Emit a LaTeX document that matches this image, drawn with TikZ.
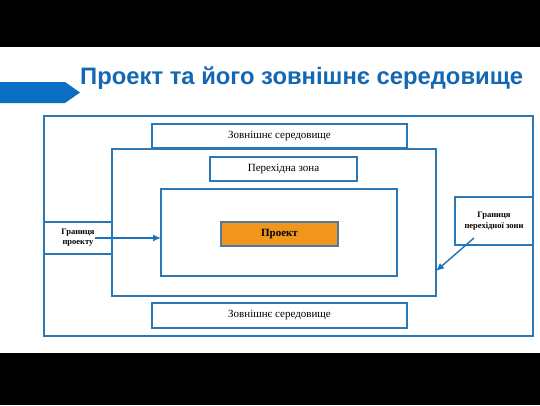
\documentclass[tikz,border=0pt]{standalone}
\usepackage{fontspec}
\setmainfont{Liberation Serif}
\newfontfamily\titlefont{Liberation Sans}
\usetikzlibrary{positioning,arrows.meta}
\definecolor{frameblue}{HTML}{2C78B4}
\definecolor{titleblue}{HTML}{1467B3}
\definecolor{barblue}{HTML}{0A6FC2}
\definecolor{arrowblue}{HTML}{1A73BA}
\definecolor{projorange}{HTML}{F0961C}
\tikzset{
    zone/.style={draw=frameblue, line width=1.6pt},
    labelbox/.style={zone, fill=white, inner sep=0pt, font=\fontsize{11}{13}\selectfont},
    pointer/.style={draw=arrowblue, line width=1.4pt, -{Latex[length=8pt,width=7pt]}},
}
\begin{document}
\begin{tikzpicture}[x=1pt,y=-1pt]
    \useasboundingbox (0,0) rectangle (540,405);
    \fill[black] (0,0) rectangle (540,47);
    \fill[black] (0,353) rectangle (540,405);

    % title bar
    \fill[barblue] (0,82) -- (65,82) -- (80,92.5) -- (65,103) -- (0,103) -- cycle;
    \node[anchor=base west, text=titleblue, inner sep=0pt, font=\titlefont\bfseries\fontsize{23.8}{28}\selectfont] (title) at (80,84) {Проект та його зовнішнє середовище};

    % nested zones
    \draw[zone] (44,116) rectangle (533,336);
    \draw[zone] (112,149) rectangle (436,296);
    \draw[zone] (161,189) rectangle (397,276);

    \node[labelbox, minimum width=255pt, minimum height=24pt] (outtop) at (279.5,136) {Зовнішнє середовище};
    \node[labelbox, minimum width=255pt, minimum height=25pt] (outbot) at (279.5,315.5) {Зовнішнє середовище};
    \node[labelbox, minimum width=147pt, minimum height=24pt] (trans) at (283.5,169) {Перехідна зона};
    \node[draw=frameblue!60!gray, line width=1.2pt, fill=projorange, inner sep=0pt, minimum width=117pt, minimum height=24pt, font=\bfseries\fontsize{11}{13}\selectfont] (proj) at (279.5,234) {Проект};

    % boundaries
    \node[zone, fill=white, inner sep=0pt, minimum width=68pt, minimum height=32pt, align=center, font=\bfseries\fontsize{8.5}{10}\selectfont] (projbound) at (78,238) {Границя\\проекту};
    \node[zone, fill=white, inner sep=0pt, minimum width=78pt, minimum height=48pt, align=center, font=\bfseries\fontsize{8.5}{10.5}\selectfont] (transbound) at (494,221) {Границя\\перехідної зони};

    \coordinate (innerleft) at (161,238);
    \coordinate (midright) at (436,271);
    \coordinate (arrstart) at (474,238);
    \draw[pointer] (projbound.center -| 95,0) -- (innerleft);
    \draw[pointer] (arrstart) -- (midright);
\end{tikzpicture}
\end{document}
